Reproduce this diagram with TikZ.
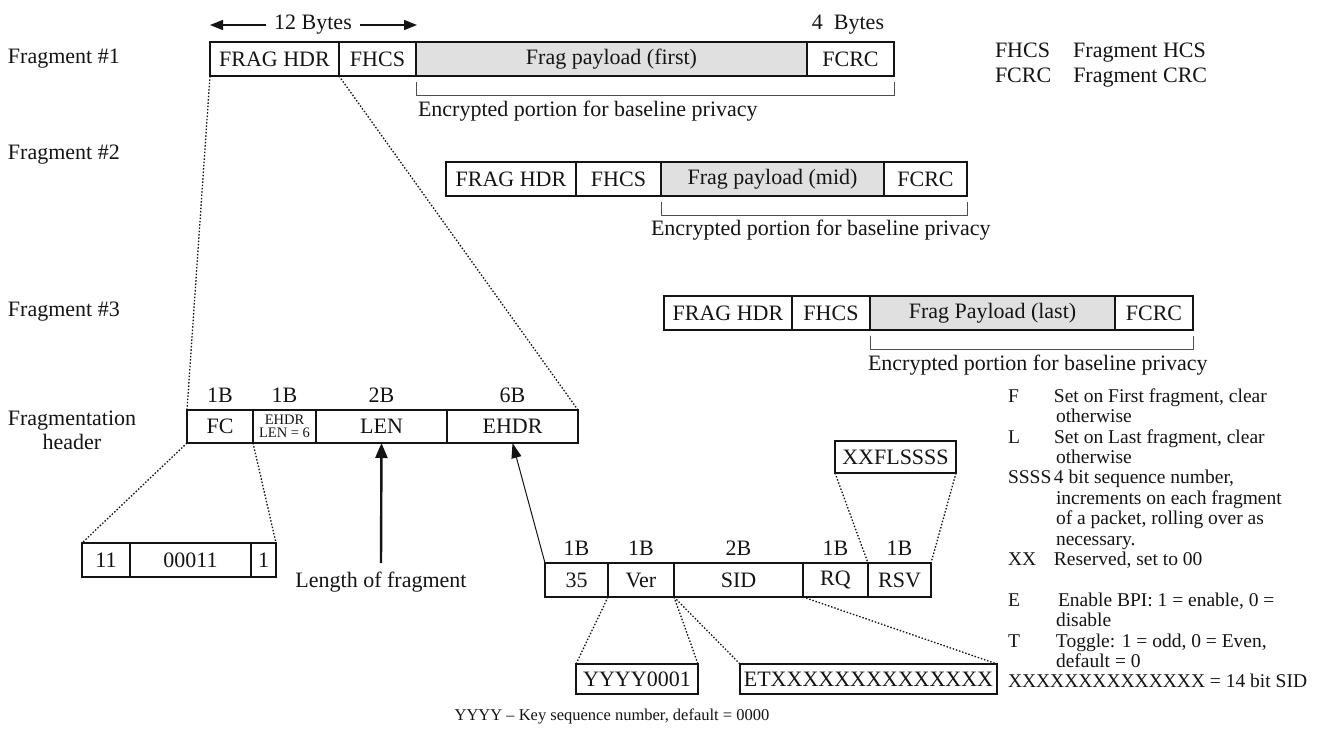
\documentclass[tikz,border=0pt]{standalone}
\usepackage{fontspec}
\setmainfont{Liberation Serif}
\usetikzlibrary{arrows.meta,calc}
\definecolor{ink}{RGB}{20,20,20}
\definecolor{payfill}{RGB}{224,224,224}
\newcommand\mainsize{\fontsize{22}{24}\selectfont}
\newcommand\notesize{\fontsize{19.5}{20.4}\selectfont}
\newcommand\tinysize{\fontsize{14.5}{13}\selectfont}
\begin{document}
\begin{tikzpicture}[x=1pt,y=-1pt,
  every node/.style={inner sep=0pt, outer sep=0pt, font=\mainsize, text=ink},
  cell/.style={draw=ink, line width=1.2pt, anchor=north west, minimum height=34pt},
  paycell/.style={cell, fill=payfill},
  zoomline/.style={draw=ink, line width=1.3pt, dash pattern=on 1.5pt off 1.8pt},
  bracket/.style={draw=ink!75, line width=1pt},
  sizearrow/.style={draw=ink, line width=1.6pt, -{Triangle[length=13pt,width=10pt]}},
  lenarrow/.style={draw=ink, line width=2.4pt, -{Triangle[length=15pt,width=12pt]}},
  thinarrow/.style={draw=ink, line width=1pt, -{Triangle[length=15pt,width=10pt]}},
]
\useasboundingbox (0,0) rectangle (1318,729);

% ---------- size markers ----------
\node (b12) at (313,25) {12 Bytes};
\coordinate (b12l) at (210,25);
\coordinate (b12r) at (417,25);
\draw[sizearrow] ([xshift=-8pt]b12.west) -- (b12l);
\draw[sizearrow] ([xshift=8pt]b12.east) -- (b12r);
\node (b4) at (848,25) {4\ \ Bytes};

% ---------- fragment #1 ----------
\node[anchor=west] (lf1) at (8,59) {Fragment \#1};
\node[cell, minimum width=129pt] (f1hdr) at (210,42) {FRAG HDR};
\node[cell, minimum width=77pt] (f1hcs) at (339,42) {FHCS};
\node[paycell, minimum width=391pt] (f1pay) at (416,42) {Frag payload (first)};
\node[cell, minimum width=87pt] (f1crc) at (807,42) {FCRC};
\draw[bracket] ($(f1pay.south west)+(0,6)$) -- ++(0,13) -| ($(f1crc.south east)+(0,6)$);
\node[anchor=west] (f1enc) at ($(f1pay.south west)+(2,35)$) {Encrypted portion for baseline privacy};

% ---------- abbreviations ----------
\node[anchor=north west, font=\fontsize{22}{25}\selectfont] (abbr) at (995,40)
  {\begin{tabular}{@{}l@{\hspace{22pt}}l@{}}FHCS & Fragment HCS\\ FCRC & Fragment CRC\end{tabular}};

% ---------- fragment #2 ----------
\node[anchor=west] (lf2) at (8,155) {Fragment \#2};
\node[cell, minimum width=130pt] (f2hdr) at (446,162) {FRAG HDR};
\node[cell, minimum width=85pt] (f2hcs) at (576,162) {FHCS};
\node[paycell, minimum width=223pt] (f2pay) at (661,162) {Frag payload (mid)};
\node[cell, minimum width=83pt] (f2crc) at (884,162) {FCRC};
\draw[bracket] ($(f2pay.south west)+(0,6)$) -- ++(0,13) -| ($(f2crc.south east)+(0,6)$);
\node[anchor=west] (f2enc) at ($(f2pay.south west)+(-10,34)$) {Encrypted portion for baseline privacy};

% ---------- fragment #3 ----------
\node[anchor=west] (lf3) at (8,312) {Fragment \#3};
\node[cell, minimum width=128pt] (f3hdr) at (664,296) {FRAG HDR};
\node[cell, minimum width=78pt] (f3hcs) at (792,296) {FHCS};
\node[paycell, minimum width=245pt] (f3pay) at (870,296) {Frag Payload (last)};
\node[cell, minimum width=78pt] (f3crc) at (1115,296) {FCRC};
\draw[bracket] ($(f3pay.south west)+(0,6)$) -- ++(0,13) -| ($(f3crc.south east)+(0,6)$);
\node[anchor=west] (f3enc) at ($(f3pay.south west)+(-2,35)$) {Encrypted portion for baseline privacy};

% ---------- fragmentation header ----------
\node[align=center] (lhdr) at (72,430) {Fragmentation\\header};
\node[cell, minimum width=66pt, minimum height=33pt] (fc) at (187,410) {FC};
\node[cell, minimum width=63pt, minimum height=33pt, align=center, font=\tinysize] (ehl) at (253,410) {EHDR\\LEN = 6};
\node[cell, minimum width=131pt, minimum height=33pt] (len) at (316,410) {LEN};
\node[cell, minimum width=131pt, minimum height=33pt] (ehdr) at (447,410) {EHDR};
\node[above=7pt] (szfc) at (fc.north) {1B};
\node[above=7pt] (szehl) at (ehl.north) {1B};
\node[above=7pt] (szlen) at (len.north) {2B};
\node[above=7pt] (szehdr) at (ehdr.north) {6B};
\draw[zoomline] (f1hdr.south west) -- (fc.north west);
\draw[zoomline] (f1hdr.south east) -- (ehdr.north east);

% ---------- FC bits ----------
\node[cell, minimum width=48pt] (fcb1) at (82,543) {11};
\node[cell, minimum width=121pt] (fcb2) at (130,543) {00011};
\node[cell, minimum width=25pt] (fcb3) at (251,543) {1};
\draw[zoomline] (fc.south west) -- (fcb1.north west);
\draw[zoomline] (fc.south east) -- (fcb3.north east);

% ---------- length ----------
\node (lenlbl) at (381,582) {Length of fragment};
\coordinate (lenfoot) at (381,563);
\draw[lenarrow] (lenfoot) -- (len.south);

% ---------- extended header ----------
\node[cell, minimum width=63pt] (e35) at (545,563) {35};
\node[cell, minimum width=66pt] (ever) at (608,563) {Ver};
\node[cell, minimum width=129pt] (esid) at (674,563) {SID};
\node[cell, minimum width=65pt] (erq) at (803,563) {RQ};
\node[cell, minimum width=63pt] (ersv) at (868,563) {RSV};
\node[above=7pt] (sz35) at (e35.north) {1B};
\node[above=7pt] (szver) at (ever.north) {1B};
\node[above=7pt] (szsid) at (esid.north) {2B};
\node[above=7pt] (szrq) at (erq.north) {1B};
\node[above=7pt] (szrsv) at (ersv.north) {1B};
\draw[thinarrow] (e35.north west) -- (ehdr.south);

\node[cell, minimum width=121pt, minimum height=32pt] (rsvbits) at (835,441) {XXFLSSSS};
\draw[zoomline] (rsvbits.south west) -- (ersv.north west);
\draw[zoomline] (rsvbits.south east) -- (ersv.north east);

\node[cell, minimum width=122pt, minimum height=30pt] (verbits) at (576,664) {YYYY0001};
\node[cell, minimum width=257pt, minimum height=30pt] (sidbits) at (740,664) {ETXXXXXXXXXXXXXX};
\draw[zoomline] (ever.south west) -- (verbits.north west);
\draw[zoomline] (ever.south east) -- (verbits.north east);
\draw[zoomline] (esid.south west) -- (sidbits.north west);
\draw[zoomline] (esid.south east) -- (sidbits.north east);
\node[font=\fontsize{16.5}{19}\selectfont] (keynote) at (612,716) {YYYY -- Key sequence number, default = 0000};

% ---------- bit legend ----------
\node[anchor=north west, font=\notesize] (bitnotes) at (1008,388) {%
\begin{tabular}{@{}p{46pt}@{}l@{}}
F & Set on First fragment, clear\\
  & \hspace{2pt}otherwise\\
L & Set on Last fragment, clear\\
  & \hspace{2pt}otherwise\\
SSSS & 4 bit sequence number,\\
  & \hspace{2pt}increments on each fragment\\
  & \hspace{2pt}of a packet, rolling over as\\
  & \hspace{2pt}necessary.\\
XX & Reserved, set to 00\\
  & \\
E & \hspace{4pt}Enable BPI: 1 = enable, 0 =\\
  & \hspace{2pt}disable\\
T & \hspace{2pt}Toggle: 1 = odd, 0 = Even,\\
  & \hspace{2pt}default = 0\\
\multicolumn{2}{@{}l@{}}{XXXXXXXXXXXXXX = 14 bit SID}
\end{tabular}};
\end{tikzpicture}
\end{document}
